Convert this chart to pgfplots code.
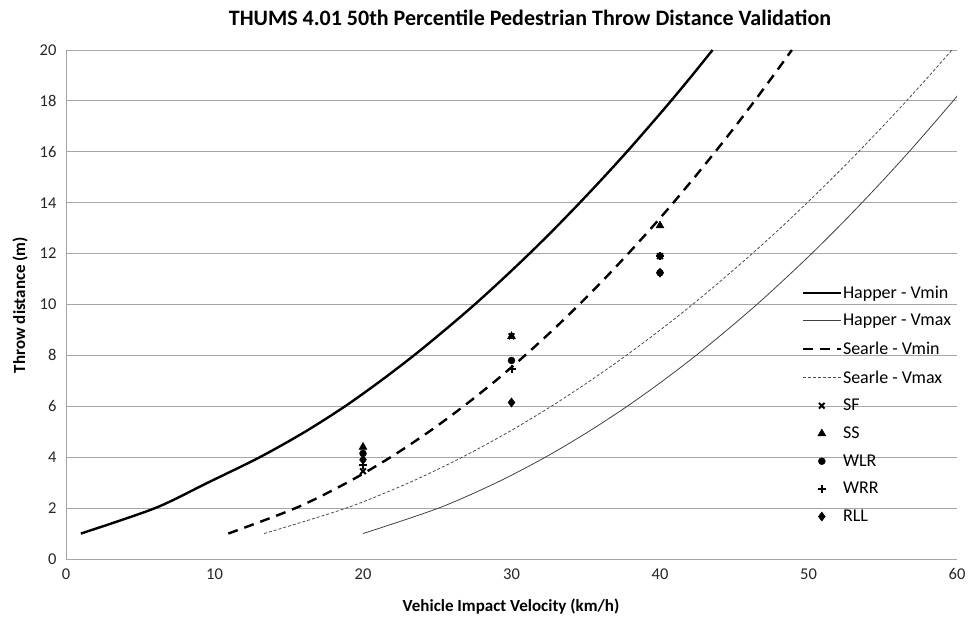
\documentclass[border=0pt]{standalone}
\usepackage{fontspec}
\setmainfont{Carlito}
\usepackage{pgfplots}
\pgfplotsset{compat=1.18}
\pgfplotsset{
  linelegend/.style={legend image code/.code={\draw[##1] (0pt,0pt) -- (38pt,0pt);}},
  marklegend/.style={legend image code/.code={\draw[##1] plot coordinates {(19pt,0pt)};}},
}
\begin{document}
\begin{tikzpicture}
\path[use as bounding box] (-66pt,-62pt) rectangle (902pt,559pt);
\begin{axis}[
  at={(0pt,0pt)}, anchor=south west,
  scale only axis, width=891pt, height=509pt,
  xmin=0, xmax=60, ymin=0, ymax=20,
  xtick={0,10,...,60}, ytick={0,2,...,20},
  axis x line*=bottom, axis y line*=left,
  axis line style={draw=black!35, line width=0.9pt, -},
  ymajorgrids, grid style={draw=black!35, line width=0.9pt},
  major tick length=0pt,
  tick label style={font=\fontsize{16.5}{18}\selectfont, text=black!85},
  /pgf/number format/assume math mode=true,
  xticklabel style={yshift=-6pt},
  yticklabel style={xshift=-6pt},
  legend style={at={(0.822,0.543)}, anchor=north west, draw=none, fill=none,
    font=\fontsize{18}{20}\selectfont, row sep=12.6pt,
    nodes={inner sep=1pt}},
  legend cell align=left,
  clip=true,
]
% Happer - Vmin
\addplot[black, line width=2.4pt, smooth, linelegend] coordinates {
(1.00,1) (6.00,2) (9.55,3) (13.05,4) (16.10,5) (18.79,6) (21.19,7) (23.43,8)
(25.52,9) (27.52,10) (29.40,11) (31.21,12) (32.94,13) (34.60,14) (36.21,15)
(37.77,16) (39.27,17) (40.74,18) (42.16,19) (43.54,20)};
\addlegendentry{Happer - Vmin}
% Happer - Vmax
\addplot[black!75, line width=0.8pt, smooth, linelegend] coordinates {
(20.00,1) (25.09,2) (28.99,3) (32.28,4) (35.17,5) (37.79,6) (40.19,7) (42.43,8)
(44.52,9) (46.52,10) (48.40,11) (50.21,12) (51.94,13) (53.60,14) (55.21,15)
(56.77,16) (58.27,17) (59.74,18) (61.16,19) (62.54,20)};
\addlegendentry{Happer - Vmax}
% Searle - Vmin
\addplot[black, line width=2.4pt, smooth, dash pattern=on 10pt off 7pt, linelegend] coordinates {
(10.93,1) (15.46,2) (18.93,3) (21.86,4) (24.44,5) (26.77,6) (28.92,7) (30.91,8)
(32.79,9) (34.56,10) (36.25,11) (37.86,12) (39.41,13) (40.90,14) (42.33,15)
(43.72,16) (45.07,17) (46.37,18) (47.64,19) (48.88,20)};
\addlegendentry{Searle - Vmin}
% Searle - Vmax
\addplot[black!70, line width=0.8pt, smooth, dash pattern=on 3pt off 2pt, linelegend] coordinates {
(13.34,1) (18.87,2) (23.11,3) (26.68,4) (29.83,5) (32.68,6) (35.29,7) (37.73,8)
(40.02,9) (42.19,10) (44.24,11) (46.21,12) (48.10,13) (49.91,14) (51.67,15)
(53.36,16) (55.00,17) (56.60,18) (58.15,19) (59.66,20)};
\addlegendentry{Searle - Vmax}
% markers
\addplot[only marks, mark=x, mark size=4pt, mark options={line width=2pt, black}, marklegend]
  coordinates {(20,3.45) (30,8.75) (40,11.9)};
\addlegendentry{SF}
\addplot[only marks, mark=triangle*, mark size=4.6pt, mark options={black}, marklegend]
  coordinates {(20,4.4) (30,8.75) (40,13.1)};
\addlegendentry{SS}
\addplot[only marks, mark=*, mark size=3.5pt, mark options={black}, marklegend]
  coordinates {(20,4.15) (30,7.8) (40,11.25)};
\addlegendentry{WLR}
\addplot[only marks, mark=+, mark size=4pt, mark options={line width=2pt, black}, marklegend]
  coordinates {(20,3.7) (30,7.48) (40,11.9)};
\addlegendentry{WRR}
\addplot[only marks, mark=diamond*, mark size=4.6pt, mark options={black}, marklegend]
  coordinates {(20,3.9) (30,6.15) (40,11.25)};
\addlegendentry{RLL}
\end{axis}
\node[font=\bfseries\fontsize{22}{26}\selectfont] at (464pt,541pt) {THUMS 4.01 50th Percentile Pedestrian Throw Distance Validation};
\node[font=\bfseries\fontsize{17}{20}\selectfont, rotate=90] at (-46pt,254pt) {Throw distance (m)};
\node[font=\bfseries\fontsize{17}{20}\selectfont] at (445pt,-48pt) {Vehicle Impact Velocity (km/h)};
\end{tikzpicture}
\end{document}
